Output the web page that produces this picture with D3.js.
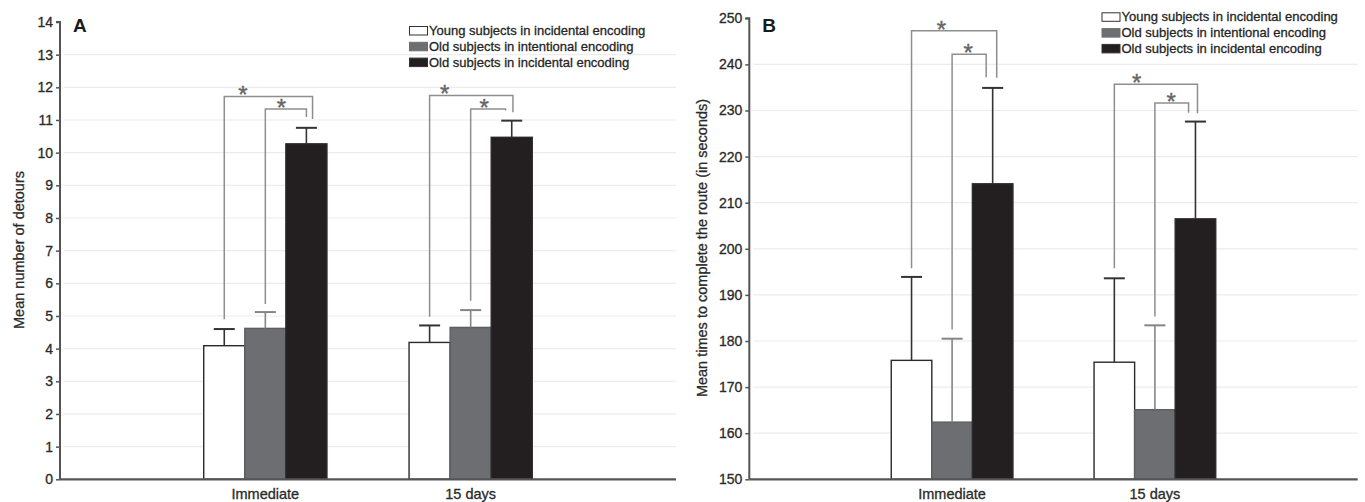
<!DOCTYPE html>
<html><head><meta charset="utf-8">
<script src="https://cdn.jsdelivr.net/npm/d3@7"></script>
<style>
html,body{margin:0;padding:0;background:#fff;}
svg{display:block;font-family:"Liberation Sans",Arial,sans-serif;}
.t{stroke:#2a2a2a;stroke-width:0.3px;}
</style></head>
<body><svg id="c" width="1365" height="502"></svg>
<script>
// ---------- data ----------
const categories = ["Immediate", "15 days"];
const seriesNames = ["Young subjects in incidental encoding", "Old subjects in intentional encoding", "Old subjects in incidental encoding"];
const seriesFill = ["#ffffff", "#6d6e71", "#231f20"];
const errColor = ["#333333", "#858585", "#333333"];

// Panel A: mean number of detours (mean, upper error)
const detoursYoungInc = [4.09, 4.19];
const detoursOldInt   = [4.62, 4.65];
const detoursOldInc   = [10.27, 10.47];
const detoursErrYoungInc = [0.51, 0.52];
const detoursErrOldInt   = [0.50, 0.53];
const detoursErrOldInc   = [0.49, 0.51];
const ticksA = [0,1,2,3,4,5,6,7,8,9,10,11,12,13,14];

// Panel B: mean time to complete route (seconds)
const timeYoungInc = [175.8, 175.4];
const timeOldInt   = [162.4, 165.1];
const timeOldInc   = [214.1, 206.5];
const timeErrYoungInc = [18.1, 18.2];
const timeErrOldInt   = [18.1, 18.3];
const timeErrOldInc   = [20.8, 21.1];
const ticksB = [150,160,170,180,190,200,210,220,230,240,250];

// significance brackets: category, from series, to series, top value, left foot value, right foot value
const bracketsA = [
  [0, 0, 2, 11.72, 4.90, 11.03],
  [0, 1, 2, 11.34, 5.37, 11.09],
  [1, 0, 2, 11.75, 4.98, 11.24],
  [1, 1, 2, 11.34, 5.47, 11.29]
];
const bracketsB = [
  [0, 0, 2, 247.3, 195.8, 237.1],
  [0, 1, 2, 242.2, 182.5, 237.2],
  [1, 0, 2, 235.7, 195.8, 229.4],
  [1, 1, 2, 231.6, 185.3, 229.5]
];
// right-foot shift (in bar widths) and star position (fraction along bracket)
const bracketEndShiftA = [0.15, 0.0, 0.03, -0.15];
const bracketEndShiftB = [0.10, -0.16, 0.05, -0.17];
const bracketStarA = [0.21, 0.39, 0.18, 0.39];
const bracketStarB = [0.35, 0.47, 0.27, 0.48];

// ---------- drawing ----------
const svg = d3.select("#c");

function panel(opt) {
  const g = svg.append("g");
  const x = d3.scaleLinear().domain([0, 3]).range([opt.left, opt.right]);
  const y = d3.scaleLinear().domain(opt.yDomain).range([opt.bottom, opt.top]);
  const unit = x(1) - x(0);
  const band = d3.scaleBand().domain([0,1,2]).range([-0.3 * unit, 0.3 * unit]).padding(0);
  const bw = band.bandwidth();
  const barX = (c, s) => x(c + 1) + band(s);
  const barC = (c, s) => barX(c, s) + bw / 2;

  // gridlines
  g.append("g").selectAll("line").data(opt.ticks.slice(1, -1)).join("line")
    .attr("x1", opt.left + 4).attr("x2", opt.right)
    .attr("y1", d => y(d)).attr("y2", d => y(d))
    .attr("stroke", "#ececec").attr("stroke-width", 1.2);

  // bars
  const rows = [];
  opt.means.forEach((arr, s) => arr.forEach((v, c) => rows.push({c, s, v, e: opt.errs[s][c]})));
  g.append("g").selectAll("rect").data(rows).join("rect")
    .attr("x", d => barX(d.c, d.s)).attr("width", bw)
    .attr("y", d => y(d.v)).attr("height", d => y(opt.yDomain[0]) - y(d.v))
    .attr("fill", d => seriesFill[d.s])
    .attr("stroke", d => d.s === 1 ? "#5d5e61" : "#2a2a2a").attr("stroke-width", 1.4);
  const eb = g.append("g");
  eb.selectAll("line.v").data(rows).join("line").attr("class", "v")
    .attr("x1", d => barC(d.c, d.s)).attr("x2", d => barC(d.c, d.s))
    .attr("y1", d => y(d.v)).attr("y2", d => y(d.v + d.e))
    .attr("stroke", d => errColor[d.s]).attr("stroke-width", 1.6);
  eb.selectAll("line.h").data(rows).join("line").attr("class", "h")
    .attr("x1", d => barC(d.c, d.s) - 10.5).attr("x2", d => barC(d.c, d.s) + 10.5)
    .attr("y1", d => y(d.v + d.e)).attr("y2", d => y(d.v + d.e))
    .attr("stroke", d => errColor[d.s]).attr("stroke-width", 2);

  // brackets
  const bg = g.append("g");
  opt.brackets.forEach((b, i) => {
    const [c, s0, s1, top, f0, f1] = b;
    const xl = barC(c, s0);
    const xr = barC(c, s1) + opt.shift[i] * bw;
    bg.append("path")
      .attr("d", d3.line()([[xl, y(f0)], [xl, y(top)], [xr, y(top)], [xr, y(f1)]]))
      .attr("fill", "none").attr("stroke", "#8e8e8e").attr("stroke-width", 1.5);
    bg.append("text").attr("x", xl + (xr - xl) * opt.star[i]).attr("y", y(top) + 7)
      .attr("text-anchor", "middle").attr("font-size", 24).attr("fill", "#666")
      .attr("stroke", "#666").attr("stroke-width", 0.4).text("*");
  });

  // y axis
  const ya = d3.axisLeft(y).tickValues(opt.ticks).tickSize(4).tickPadding(3).tickFormat(d3.format("d"));
  const yg = g.append("g").attr("transform", `translate(${opt.left},0)`).call(ya);
  yg.select(".domain").attr("stroke", "#555").attr("stroke-width", 2).attr("d", `M-4,${opt.top}H0V${opt.bottom}`);
  yg.selectAll(".tick line").attr("stroke", "#555").attr("stroke-width", 1.5);
  yg.selectAll(".tick text").attr("class", "t").attr("font-size", 14).attr("fill", "#2a2a2a").attr("font-family", "Liberation Sans, Arial, sans-serif");

  // x axis line
  g.append("line").attr("x1", opt.left).attr("x2", opt.right)
    .attr("y1", opt.bottom).attr("y2", opt.bottom).attr("stroke", "#555").attr("stroke-width", 2.2);
  g.append("g").selectAll("text").data(categories).join("text").attr("class", "t")
    .attr("x", (d, i) => x(i + 1)).attr("y", opt.bottom + 20)
    .attr("text-anchor", "middle").attr("font-size", 14.5).attr("fill", "#2a2a2a").text(d => d);

  // y label
  g.append("text").attr("class", "t").attr("transform", `translate(${opt.ylabX},${opt.ylabY}) rotate(-90)`)
    .attr("text-anchor", "middle").attr("font-size", opt.ylabSize).attr("fill", "#2a2a2a").text(opt.ylabel);

  // panel letter
  g.append("text").attr("x", opt.left + 13).attr("y", 32).attr("font-size", 19)
    .attr("font-weight", "bold").attr("fill", "#1a1a1a").text(opt.letter);

  // legend
  const lg = g.append("g").attr("transform", `translate(${opt.legX},${opt.legY})`);
  seriesNames.forEach((n, i) => {
    lg.append("rect").attr("x", 0.5).attr("y", i * 15.8 + 0.5).attr("width", 18).attr("height", 8.5)
      .attr("fill", seriesFill[i]).attr("stroke", i === 1 ? "#6d6e71" : "#333").attr("stroke-width", 1);
    lg.append("text").attr("class", "t").attr("x", 20).attr("y", i * 15.8 + 9).attr("font-size", 13)
      .attr("fill", "#1e1e1e").text(n);
  });
}

panel({
  left: 60, right: 676, top: 22, bottom: 479.3, yDomain: [0, 14], ticks: ticksA,
  means: [detoursYoungInc, detoursOldInt, detoursOldInc],
  errs: [detoursErrYoungInc, detoursErrOldInt, detoursErrOldInc],
  brackets: bracketsA, shift: bracketEndShiftA, star: bracketStarA,
  ylabel: "Mean number of detours", ylabX: 24, ylabY: 250, ylabSize: 14.5,
  letter: "A", legX: 409, legY: 26
});
panel({
  left: 749.3, right: 1357.7, top: 18.3, bottom: 479.3, yDomain: [150, 250], ticks: ticksB,
  means: [timeYoungInc, timeOldInt, timeOldInc],
  errs: [timeErrYoungInc, timeErrOldInt, timeErrOldInc],
  brackets: bracketsB, shift: bracketEndShiftB, star: bracketStarB,
  ylabel: "Mean times to complete the route (in seconds)", ylabX: 707, ylabY: 248, ylabSize: 14.5,
  letter: "B", legX: 1101.5, legY: 12.3
});
</script></body></html>
